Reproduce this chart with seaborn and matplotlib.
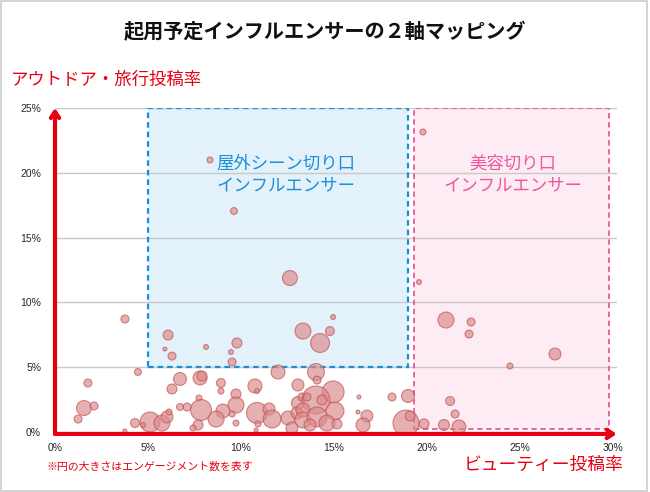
import matplotlib
matplotlib.use("Agg")
import matplotlib.pyplot as plt
from matplotlib.patches import Rectangle
import seaborn as sns
import pandas as pd

# ---------------- data ----------------
beauty_rate = [8.33, 9.62, 19.78, 12.63, 19.57, 21.02, 22.37, 22.26, 26.88, 24.46,
               13.33, 14.78, 14.95, 14.25, 3.76, 6.08, 5.91, 6.29, 8.12, 9.78,
               9.46, 9.52, 4.46, 1.77, 1.56, 2.10, 1.24, 6.72, 6.29, 7.80,
               7.90, 8.92, 8.92, 9.73, 7.74, 7.85, 7.10, 6.72, 9.03, 8.66,
               9.73, 9.52, 9.73, 10.75, 10.86, 10.86, 11.51, 11.67, 11.99, 13.06,
               13.28, 12.53, 13.01, 12.74, 14.03, 14.09, 13.06, 14.95, 14.03, 14.35,
               15.05, 13.33, 13.33, 14.09, 14.62, 15.16, 13.71, 5.11, 5.75, 6.02,
               6.13, 4.30, 4.73, 3.76, 7.69, 7.42, 10.91, 10.81, 16.34, 16.29,
               18.12, 18.98, 16.77, 16.56, 18.87, 19.09, 19.84, 21.24, 21.51, 20.91,
               21.72, 13.55]
outdoor_rate = [20.99, 17.05, 23.15, 11.88, 11.57, 8.64, 8.49, 7.56, 6.02, 5.09,
                7.79, 7.79, 8.87, 6.87, 8.72, 7.48, 6.40, 5.86, 6.56, 6.87,
                6.17, 5.40, 4.63, 3.78, 1.85, 2.01, 1.00, 4.09, 3.32, 4.17,
                4.32, 3.78, 3.16, 2.93, 2.62, 1.70, 1.93, 1.93, 1.62, 1.00,
                2.08, 1.39, 0.69, 3.55, 3.16, 1.47, 1.77, 1.00, 4.63, 2.24,
                2.70, 1.08, 1.47, 0.31, 4.63, 4.01, 3.63, 3.09, 2.47, 2.47,
                1.62, 1.70, 0.93, 1.16, 0.69, 0.62, 0.54, 0.77, 0.69, 1.16,
                1.54, 0.69, 0.54, 0.08, 0.54, 0.31, 0.62, 0.15, 2.70, 1.54,
                2.70, 2.78, 1.23, 0.54, 0.69, 1.23, 0.62, 2.39, 1.39, 0.54,
                0.39, 2.70]
engagement = [90, 120, 90, 560, 60, 640, 160, 160, 360, 90,
              640, 200, 60, 900, 160, 250, 40, 160, 60, 250,
              60, 160, 120, 160, 560, 160, 160, 420, 250, 490,
              250, 200, 90, 250, 90, 1100, 160, 120, 490, 640,
              640, 90, 90, 490, 60, 1100, 360, 810, 490, 420,
              160, 490, 360, 360, 720, 160, 360, 1210, 1960, 250,
              810, 490, 640, 1000, 640, 250, 360, 1000, 640, 360,
              90, 200, 60, 40, 250, 90, 90, 40, 40, 40,
              160, 420, 360, 490, 1690, 250, 250, 200, 160, 300,
              490, 160]

x_ticks = [0, 5, 10, 15, 20, 25, 30]
y_ticks = [0, 5, 10, 15, 20, 25]
tick_labels_x = ["0%", "5%", "10%", "15%", "20%", "25%", "30%"]
tick_labels_y = ["0%", "5%", "10%", "15%", "20%", "25%"]

title = "起用予定インフルエンサーの２軸マッピング"
y_label = "アウトドア・旅行投稿率"
x_label = "ビューティー投稿率"
note = "※円の大きさはエンゲージメント数を表す"
outdoor_zone_label = "屋外シーン切り口\nインフルエンサー"
beauty_zone_label = "美容切り口\nインフルエンサー"

df = pd.DataFrame({"beauty": beauty_rate, "outdoor": outdoor_rate, "eng": engagement})

# ---------------- style ----------------
sns.set_style("white")
plt.rcParams["font.family"] = ["Noto Sans CJK JP", "DejaVu Sans"]

RED = "#e60012"
BLUE = "#1a8fd6"
PINK = "#f0559e"

W, H = 650, 492
fig = plt.figure(figsize=(6.5, 4.92), dpi=100)

def fx(px):
    return px / W

def fy(py):
    return 1 - py / H

x_max = 30.2
ax = fig.add_axes([fx(55), fy(432), fx(55 + 18.6 * x_max) - fx(55), fy(108) - fy(432)])
ax.set_xlim(0, x_max)
ax.set_ylim(0, 25)

# zones
ax.add_patch(Rectangle((5, 5), 18.96 - 5, 20, facecolor="#e3f1fb", edgecolor="none", zorder=0.5))
ax.add_patch(Rectangle((19.3, 0.25), 29.8 - 19.3, 24.75, facecolor="#fdecf4", edgecolor="none", zorder=0.5))
ax.add_patch(Rectangle((5, 5), 18.96 - 5, 20, facecolor="none", edgecolor=BLUE,
                       linestyle=(0, (2.5, 1.8)), linewidth=1.6, zorder=1.6))
ax.add_patch(Rectangle((19.3, 0.25), 29.8 - 19.3, 24.75, facecolor="none", edgecolor=PINK,
                       linestyle=(0, (3, 2)), linewidth=1.3, zorder=1.6))

# grid
for yv in y_ticks[1:]:
    ax.axhline(yv, color="#c9c9c9", linewidth=1.0, zorder=1)

# bubbles
sns.scatterplot(data=df, x="beauty", y="outdoor", size="eng",
                sizes=(0, 405), size_norm=(0, 1960),
                color="#d98a8c", alpha=0.67, edgecolor="#c0504d", linewidth=0.8,
                legend=False, ax=ax, zorder=2)

ax.set_xlabel("")
ax.set_ylabel("")
for s in ax.spines.values():
    s.set_visible(False)

ax.set_xticks(x_ticks)
ax.set_xticklabels(tick_labels_x, fontsize=7.5, family=["Liberation Sans", "DejaVu Sans"])
ax.set_yticks(y_ticks)
ax.set_yticklabels(tick_labels_y, fontsize=7.5, family=["Liberation Sans", "DejaVu Sans"])
ax.tick_params(axis="both", length=0)
ax.tick_params(axis="x", pad=8)
ax.tick_params(axis="y", pad=10)

# red arrow axes
ax.annotate("", xy=(0, 1.0), xytext=(0, -0.006), xycoords="axes fraction",
            arrowprops=dict(arrowstyle="->,head_length=0.45,head_width=0.3", color=RED,
                            lw=3, shrinkA=0, shrinkB=0), zorder=5, annotation_clip=False)
ax.annotate("", xy=(1.0, -0.006), xytext=(0, -0.006), xycoords="axes fraction",
            arrowprops=dict(arrowstyle="->,head_length=0.45,head_width=0.3", color=RED,
                            lw=3, shrinkA=0, shrinkB=0), zorder=5, annotation_clip=False)

# zone labels
ax.text(12.4, 19.9, outdoor_zone_label, color=BLUE, fontsize=12.5, ha="center", va="center",
        linespacing=1.25, zorder=3)
ax.text(24.6, 19.9, beauty_zone_label, color=PINK, fontsize=12.5, ha="center", va="center",
        linespacing=1.25, zorder=3)

# texts
fig.text(0.5, fy(32), title, ha="center", va="center", fontsize=14.5, fontweight="bold", color="#111111")
fig.text(fx(11), fy(80), y_label, ha="left", va="center", fontsize=12.5, color=RED)
fig.text(fx(623), fy(465), x_label, ha="right", va="center", fontsize=12.8, color=RED)
fig.text(fx(46), fy(467), note, ha="left", va="center", fontsize=7.8, color=RED)

# border
fig.add_artist(Rectangle((0.002, 0.003), 0.994, 0.994, transform=fig.transFigure,
                         facecolor="none", edgecolor="#cccccc", linewidth=1.2))

fig.savefig("out.png", dpi=100)
